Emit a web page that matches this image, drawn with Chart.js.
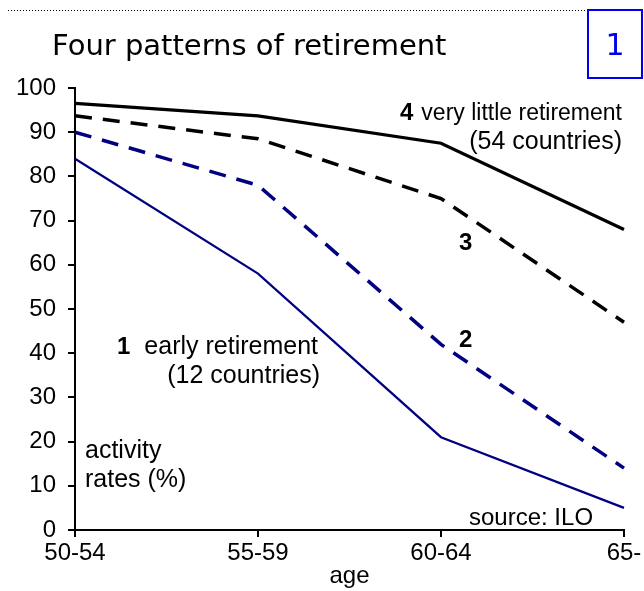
<!DOCTYPE html>
<html>
<head>
<meta charset="utf-8">
<script src="https://cdn.jsdelivr.net/npm/chart.js@4"></script>
<style>
  html, body { margin: 0; padding: 0; background: #fff; }
  #wrap { width: 644px; height: 591px; position: relative; }
</style>
</head>
<body>
<div id="wrap"><canvas id="retireChart"></canvas></div>
<script>
// age groups
const ageGroups = ['50-54', '55-59', '60-64', '65-'];
// activity rates (%) per pattern
const earlyRetirement = [84, 58, 21, 5];
const pattern2 = [90, 78, 42, 14];
const pattern3 = [93.7, 88.5, 75, 47];
const veryLittleRetirement = [96.5, 93.7, 87.5, 68];
const yTicks = [0, 10, 20, 30, 40, 50, 60, 70, 80, 90, 100];

const NAVY = '#000080';
const FAMILY = '"Liberation Sans", Arial, sans-serif';

// 제목, 번호 상자, 주석 텍스트
const annotations = {
    id: 'annotations',
    afterDraw(chart) {
        const c = chart.ctx;
        c.save();
        // dotted line at top
        c.strokeStyle = '#000';
        c.lineWidth = 1;
        c.setLineDash([1, 2]);
        c.beginPath();
        c.moveTo(8, 10.5);
        c.lineTo(585, 10.5);
        c.stroke();
        c.setLineDash([]);

        // number box
        c.strokeStyle = '#0000ee';
        c.lineWidth = 2;
        c.strokeRect(588, 10, 54, 68);
        c.fillStyle = '#0000ee';
        c.font = '30px "DejaVu Sans", sans-serif';
        c.textAlign = 'center';
        c.textBaseline = 'alphabetic';
        c.fillText('1', 615, 55);

        // title
        c.fillStyle = '#000';
        c.textAlign = 'left';
        c.font = '29px "DejaVu Sans", sans-serif';
        c.fillText('Four patterns of retirement', 52, 55);

        c.textAlign = 'right';
        c.font = '23px ' + FAMILY;
        c.fillText('very little retirement', 622, 120);
        c.font = '25px ' + FAMILY;
        c.fillText('(54 countries)', 622, 149);
        c.fillText('early retirement', 318, 354);
        c.fillText('(12 countries)', 320, 383);

        c.textAlign = 'left';
        c.fillText('activity', 85, 458);
        c.fillText('rates (%)', 85, 487);
        c.font = '24px ' + FAMILY;
        c.fillText('source: ILO', 469, 525);

        c.font = 'bold 24px ' + FAMILY;
        c.fillText('4', 400, 120);
        c.fillText('3', 459, 250);
        c.fillText('2', 459, 347);
        c.fillText('1', 117, 354);
        c.restore();
    }
};

const ctx = document.getElementById('retireChart').getContext('2d');
new Chart(ctx, {
    type: 'line',
    data: {
        labels: ageGroups,
        datasets: [
            {
                label: '4 very little retirement',
                data: veryLittleRetirement,
                borderColor: '#000',
                borderWidth: 3.2,
                pointRadius: 0,
                tension: 0
            },
            {
                label: '3',
                data: pattern3,
                borderColor: '#000',
                borderWidth: 3.5,
                borderDash: [17, 11],
                pointRadius: 0,
                tension: 0
            },
            {
                label: '2',
                data: pattern2,
                borderColor: NAVY,
                borderWidth: 3.5,
                borderDash: [17, 11],
                pointRadius: 0,
                tension: 0
            },
            {
                label: '1 early retirement',
                data: earlyRetirement,
                borderColor: NAVY,
                borderWidth: 2.2,
                pointRadius: 0,
                tension: 0
            }
        ]
    },
    options: {
        responsive: true,
        maintainAspectRatio: false,
        animation: false,
        layout: { padding: { top: 88, right: 20, left: 0, bottom: 0 } },
        plugins: {
            legend: { display: false },
            tooltip: { enabled: false }
        },
        scales: {
            x: {
                offset: false,
                border: { color: '#000', width: 2 },
                grid: { drawOnChartArea: false, color: '#000', lineWidth: 2, tickLength: 7 },
                ticks: {
                    color: '#000',
                    font: { family: FAMILY, size: 24 },
                    maxRotation: 0,
                    autoSkip: false,
                    padding: 2
                },
                title: {
                    display: true,
                    text: 'age',
                    color: '#000',
                    font: { family: FAMILY, size: 24 },
                    padding: 0
                },
                afterFit(scale) { scale.height = 61; }
            },
            y: {
                min: 0,
                max: 100,
                afterBuildTicks(scale) { scale.ticks = yTicks.map(v => ({ value: v })); },
                border: { color: '#000', width: 2 },
                grid: { drawOnChartArea: false, color: '#000', lineWidth: 2, tickLength: 7 },
                ticks: {
                    color: '#000',
                    font: { family: FAMILY, size: 24 },
                    padding: 12
                },
                afterFit(scale) { scale.width = 75; }
            }
        }
    },
    plugins: [annotations]
});
</script>
</body>
</html>
